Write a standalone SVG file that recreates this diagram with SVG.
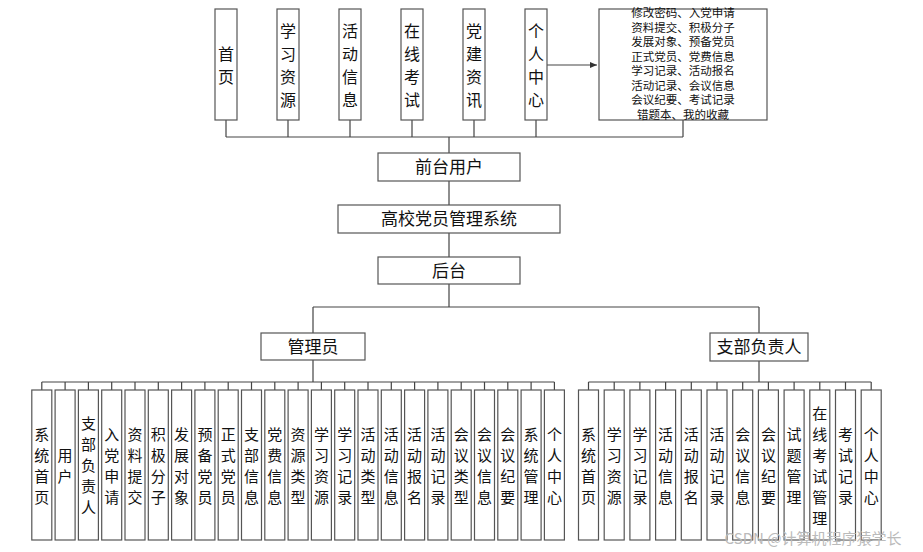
<svg xmlns="http://www.w3.org/2000/svg" width="923" height="552" viewBox="0 0 923 552">
<defs>
<style>
rect{fill:#fff;stroke:#555;stroke-width:1.2}
.c line,.c path{stroke:#444;stroke-width:1.2;fill:none}
text{font-family:"Noto Sans CJK SC","Liberation Sans",sans-serif;fill:#111;text-anchor:middle}
.t{font-size:16px}.b{font-size:15px}.h{font-size:17px}.s{font-size:11.5px}
</style>
<marker id="a" markerWidth="8" markerHeight="8" refX="7" refY="4" orient="auto" markerUnits="userSpaceOnUse"><path d="M0,1 L7,4 L0,7 Z" fill="#333"/></marker>
</defs>
<rect x="0" y="0" width="923" height="552" style="fill:#fff;stroke:none"/>
<g class="c" id="connectors">
<path d="M226,120V137M288,120V137M350,120V137M412,120V137M474,120V137M536,120V137M683,120V137M226,137H683"/>
<line x1="546" y1="65" x2="597" y2="65" marker-end="url(#a)"/>
<path d="M449,137V153M449,181V205M449,233V257M449,284V307M313,307H759M313,307V333M759,307V333"/>
<path d="M313,360V382M41.8,382H554.4"/>
<path d="M41.8,382v8M65.1,382v8M88.4,382v8M111.7,382v8M135,382v8M158.3,382v8M181.6,382v8M204.9,382v8M228.2,382v8M251.5,382v8M274.8,382v8M298.1,382v8M321.4,382v8M344.7,382v8M368,382v8M391.3,382v8M414.6,382v8M437.9,382v8M461.2,382v8M484.5,382v8M507.8,382v8M531.1,382v8M554.4,382v8"/>
<path d="M759,360V382M588.5,382H871.2"/>
<path d="M588.5,382v8M614.2,382v8M639.9,382v8M665.6,382v8M691.3,382v8M717,382v8M742.7,382v8M768.4,382v8M794.1,382v8M819.8,382v8M845.5,382v8M871.2,382v8"/>
</g>
<g id="top">
<g id="n-sy"><rect x="215" y="9" width="22" height="111"/><text class="t"><tspan x="226" y="59.5">首</tspan><tspan x="226" y="82.5">页</tspan></text></g>
<g id="n-xxzy"><rect x="277" y="9" width="22" height="111"/><text class="t"><tspan x="288" y="36.5">学</tspan><tspan x="288" y="59.5">习</tspan><tspan x="288" y="82.5">资</tspan><tspan x="288" y="105.5">源</tspan></text></g>
<g id="n-hdxx"><rect x="339" y="9" width="22" height="111"/><text class="t"><tspan x="350" y="36.5">活</tspan><tspan x="350" y="59.5">动</tspan><tspan x="350" y="82.5">信</tspan><tspan x="350" y="105.5">息</tspan></text></g>
<g id="n-zxks"><rect x="401" y="9" width="22" height="111"/><text class="t"><tspan x="412" y="36.5">在</tspan><tspan x="412" y="59.5">线</tspan><tspan x="412" y="82.5">考</tspan><tspan x="412" y="105.5">试</tspan></text></g>
<g id="n-djzx"><rect x="463" y="9" width="22" height="111"/><text class="t"><tspan x="474" y="36.5">党</tspan><tspan x="474" y="59.5">建</tspan><tspan x="474" y="82.5">资</tspan><tspan x="474" y="105.5">讯</tspan></text></g>
<g id="n-grzx"><rect x="525" y="9" width="22" height="111"/><text class="t"><tspan x="536" y="36.5">个</tspan><tspan x="536" y="59.5">人</tspan><tspan x="536" y="82.5">中</tspan><tspan x="536" y="105.5">心</tspan></text></g>
<g id="n-list"><rect x="599" y="9" width="168" height="111"/><text class="s"><tspan x="683" y="17">修改密码、入党申请</tspan><tspan x="683" y="31.5">资料提交、积极分子</tspan><tspan x="683" y="46">发展对象、预备党员</tspan><tspan x="683" y="60.5">正式党员、党费信息</tspan><tspan x="683" y="75">学习记录、活动报名</tspan><tspan x="683" y="89.5">活动记录、会议信息</tspan><tspan x="683" y="104">会议纪要、考试记录</tspan><tspan x="683" y="118.5">错题本、我的收藏</tspan></text></g>
</g>
<g id="n-qt"><rect x="378" y="153" width="142" height="28"/><text class="h" x="449" y="173">前台用户</text></g>
<g id="n-sys"><rect x="338" y="205" width="222" height="28"/><text class="h" x="449" y="225">高校党员管理系统</text></g>
<g id="n-ht"><rect x="378" y="257" width="142" height="27"/><text class="h" x="449" y="277">后台</text></g>
<g id="n-admin"><rect x="261" y="333" width="104" height="27"/><text class="h" x="313" y="353">管理员</text></g>
<g id="n-zb"><rect x="710" y="333" width="98" height="28"/><text class="h" x="759" y="353">支部负责人</text></g>
<g id="admin-leaves">
<g id="a0"><rect x="31.8" y="390" width="20" height="150"/><text class="b"><tspan x="41.8" y="439.5">系</tspan><tspan x="41.8" y="460.5">统</tspan><tspan x="41.8" y="481.5">首</tspan><tspan x="41.8" y="502.5">页</tspan></text></g>
<g id="a1"><rect x="55.1" y="390" width="20" height="150"/><text class="b"><tspan x="65.1" y="460.5">用</tspan><tspan x="65.1" y="481.5">户</tspan></text></g>
<g id="a2"><rect x="78.4" y="390" width="20" height="150"/><text class="b"><tspan x="88.4" y="429">支</tspan><tspan x="88.4" y="450">部</tspan><tspan x="88.4" y="471">负</tspan><tspan x="88.4" y="492">责</tspan><tspan x="88.4" y="513">人</tspan></text></g>
<g id="a3"><rect x="101.7" y="390" width="20" height="150"/><text class="b"><tspan x="111.7" y="439.5">入</tspan><tspan x="111.7" y="460.5">党</tspan><tspan x="111.7" y="481.5">申</tspan><tspan x="111.7" y="502.5">请</tspan></text></g>
<g id="a4"><rect x="125" y="390" width="20" height="150"/><text class="b"><tspan x="135" y="439.5">资</tspan><tspan x="135" y="460.5">料</tspan><tspan x="135" y="481.5">提</tspan><tspan x="135" y="502.5">交</tspan></text></g>
<g id="a5"><rect x="148.3" y="390" width="20" height="150"/><text class="b"><tspan x="158.3" y="439.5">积</tspan><tspan x="158.3" y="460.5">极</tspan><tspan x="158.3" y="481.5">分</tspan><tspan x="158.3" y="502.5">子</tspan></text></g>
<g id="a6"><rect x="171.6" y="390" width="20" height="150"/><text class="b"><tspan x="181.6" y="439.5">发</tspan><tspan x="181.6" y="460.5">展</tspan><tspan x="181.6" y="481.5">对</tspan><tspan x="181.6" y="502.5">象</tspan></text></g>
<g id="a7"><rect x="194.9" y="390" width="20" height="150"/><text class="b"><tspan x="204.9" y="439.5">预</tspan><tspan x="204.9" y="460.5">备</tspan><tspan x="204.9" y="481.5">党</tspan><tspan x="204.9" y="502.5">员</tspan></text></g>
<g id="a8"><rect x="218.2" y="390" width="20" height="150"/><text class="b"><tspan x="228.2" y="439.5">正</tspan><tspan x="228.2" y="460.5">式</tspan><tspan x="228.2" y="481.5">党</tspan><tspan x="228.2" y="502.5">员</tspan></text></g>
<g id="a9"><rect x="241.5" y="390" width="20" height="150"/><text class="b"><tspan x="251.5" y="439.5">支</tspan><tspan x="251.5" y="460.5">部</tspan><tspan x="251.5" y="481.5">信</tspan><tspan x="251.5" y="502.5">息</tspan></text></g>
<g id="a10"><rect x="264.8" y="390" width="20" height="150"/><text class="b"><tspan x="274.8" y="439.5">党</tspan><tspan x="274.8" y="460.5">费</tspan><tspan x="274.8" y="481.5">信</tspan><tspan x="274.8" y="502.5">息</tspan></text></g>
<g id="a11"><rect x="288.1" y="390" width="20" height="150"/><text class="b"><tspan x="298.1" y="439.5">资</tspan><tspan x="298.1" y="460.5">源</tspan><tspan x="298.1" y="481.5">类</tspan><tspan x="298.1" y="502.5">型</tspan></text></g>
<g id="a12"><rect x="311.4" y="390" width="20" height="150"/><text class="b"><tspan x="321.4" y="439.5">学</tspan><tspan x="321.4" y="460.5">习</tspan><tspan x="321.4" y="481.5">资</tspan><tspan x="321.4" y="502.5">源</tspan></text></g>
<g id="a13"><rect x="334.7" y="390" width="20" height="150"/><text class="b"><tspan x="344.7" y="439.5">学</tspan><tspan x="344.7" y="460.5">习</tspan><tspan x="344.7" y="481.5">记</tspan><tspan x="344.7" y="502.5">录</tspan></text></g>
<g id="a14"><rect x="358" y="390" width="20" height="150"/><text class="b"><tspan x="368" y="439.5">活</tspan><tspan x="368" y="460.5">动</tspan><tspan x="368" y="481.5">类</tspan><tspan x="368" y="502.5">型</tspan></text></g>
<g id="a15"><rect x="381.3" y="390" width="20" height="150"/><text class="b"><tspan x="391.3" y="439.5">活</tspan><tspan x="391.3" y="460.5">动</tspan><tspan x="391.3" y="481.5">信</tspan><tspan x="391.3" y="502.5">息</tspan></text></g>
<g id="a16"><rect x="404.6" y="390" width="20" height="150"/><text class="b"><tspan x="414.6" y="439.5">活</tspan><tspan x="414.6" y="460.5">动</tspan><tspan x="414.6" y="481.5">报</tspan><tspan x="414.6" y="502.5">名</tspan></text></g>
<g id="a17"><rect x="427.9" y="390" width="20" height="150"/><text class="b"><tspan x="437.9" y="439.5">活</tspan><tspan x="437.9" y="460.5">动</tspan><tspan x="437.9" y="481.5">记</tspan><tspan x="437.9" y="502.5">录</tspan></text></g>
<g id="a18"><rect x="451.2" y="390" width="20" height="150"/><text class="b"><tspan x="461.2" y="439.5">会</tspan><tspan x="461.2" y="460.5">议</tspan><tspan x="461.2" y="481.5">类</tspan><tspan x="461.2" y="502.5">型</tspan></text></g>
<g id="a19"><rect x="474.5" y="390" width="20" height="150"/><text class="b"><tspan x="484.5" y="439.5">会</tspan><tspan x="484.5" y="460.5">议</tspan><tspan x="484.5" y="481.5">信</tspan><tspan x="484.5" y="502.5">息</tspan></text></g>
<g id="a20"><rect x="497.8" y="390" width="20" height="150"/><text class="b"><tspan x="507.8" y="439.5">会</tspan><tspan x="507.8" y="460.5">议</tspan><tspan x="507.8" y="481.5">纪</tspan><tspan x="507.8" y="502.5">要</tspan></text></g>
<g id="a21"><rect x="521.1" y="390" width="20" height="150"/><text class="b"><tspan x="531.1" y="439.5">系</tspan><tspan x="531.1" y="460.5">统</tspan><tspan x="531.1" y="481.5">管</tspan><tspan x="531.1" y="502.5">理</tspan></text></g>
<g id="a22"><rect x="544.4" y="390" width="20" height="150"/><text class="b"><tspan x="554.4" y="439.5">个</tspan><tspan x="554.4" y="460.5">人</tspan><tspan x="554.4" y="481.5">中</tspan><tspan x="554.4" y="502.5">心</tspan></text></g>
</g>
<g id="zb-leaves">
<g id="b0"><rect x="578.5" y="390" width="20" height="150"/><text class="b"><tspan x="588.5" y="439.5">系</tspan><tspan x="588.5" y="460.5">统</tspan><tspan x="588.5" y="481.5">首</tspan><tspan x="588.5" y="502.5">页</tspan></text></g>
<g id="b1"><rect x="604.2" y="390" width="20" height="150"/><text class="b"><tspan x="614.2" y="439.5">学</tspan><tspan x="614.2" y="460.5">习</tspan><tspan x="614.2" y="481.5">资</tspan><tspan x="614.2" y="502.5">源</tspan></text></g>
<g id="b2"><rect x="629.9" y="390" width="20" height="150"/><text class="b"><tspan x="639.9" y="439.5">学</tspan><tspan x="639.9" y="460.5">习</tspan><tspan x="639.9" y="481.5">记</tspan><tspan x="639.9" y="502.5">录</tspan></text></g>
<g id="b3"><rect x="655.6" y="390" width="20" height="150"/><text class="b"><tspan x="665.6" y="439.5">活</tspan><tspan x="665.6" y="460.5">动</tspan><tspan x="665.6" y="481.5">信</tspan><tspan x="665.6" y="502.5">息</tspan></text></g>
<g id="b4"><rect x="681.3" y="390" width="20" height="150"/><text class="b"><tspan x="691.3" y="439.5">活</tspan><tspan x="691.3" y="460.5">动</tspan><tspan x="691.3" y="481.5">报</tspan><tspan x="691.3" y="502.5">名</tspan></text></g>
<g id="b5"><rect x="707" y="390" width="20" height="150"/><text class="b"><tspan x="717" y="439.5">活</tspan><tspan x="717" y="460.5">动</tspan><tspan x="717" y="481.5">记</tspan><tspan x="717" y="502.5">录</tspan></text></g>
<g id="b6"><rect x="732.7" y="390" width="20" height="150"/><text class="b"><tspan x="742.7" y="439.5">会</tspan><tspan x="742.7" y="460.5">议</tspan><tspan x="742.7" y="481.5">信</tspan><tspan x="742.7" y="502.5">息</tspan></text></g>
<g id="b7"><rect x="758.4" y="390" width="20" height="150"/><text class="b"><tspan x="768.4" y="439.5">会</tspan><tspan x="768.4" y="460.5">议</tspan><tspan x="768.4" y="481.5">纪</tspan><tspan x="768.4" y="502.5">要</tspan></text></g>
<g id="b8"><rect x="784.1" y="390" width="20" height="150"/><text class="b"><tspan x="794.1" y="439.5">试</tspan><tspan x="794.1" y="460.5">题</tspan><tspan x="794.1" y="481.5">管</tspan><tspan x="794.1" y="502.5">理</tspan></text></g>
<g id="b9"><rect x="809.8" y="390" width="20" height="150"/><text class="b"><tspan x="819.8" y="418.5">在</tspan><tspan x="819.8" y="439.5">线</tspan><tspan x="819.8" y="460.5">考</tspan><tspan x="819.8" y="481.5">试</tspan><tspan x="819.8" y="502.5">管</tspan><tspan x="819.8" y="523.5">理</tspan></text></g>
<g id="b10"><rect x="835.5" y="390" width="20" height="150"/><text class="b"><tspan x="845.5" y="439.5">考</tspan><tspan x="845.5" y="460.5">试</tspan><tspan x="845.5" y="481.5">记</tspan><tspan x="845.5" y="502.5">录</tspan></text></g>
<g id="b11"><rect x="861.2" y="390" width="20" height="150"/><text class="b"><tspan x="871.2" y="439.5">个</tspan><tspan x="871.2" y="460.5">人</tspan><tspan x="871.2" y="481.5">中</tspan><tspan x="871.2" y="502.5">心</tspan></text></g>
</g>
<text x="813" y="544" style="font-size:15px;fill:#bbb">CSDN @计算机程序猿学长</text>
</svg>
